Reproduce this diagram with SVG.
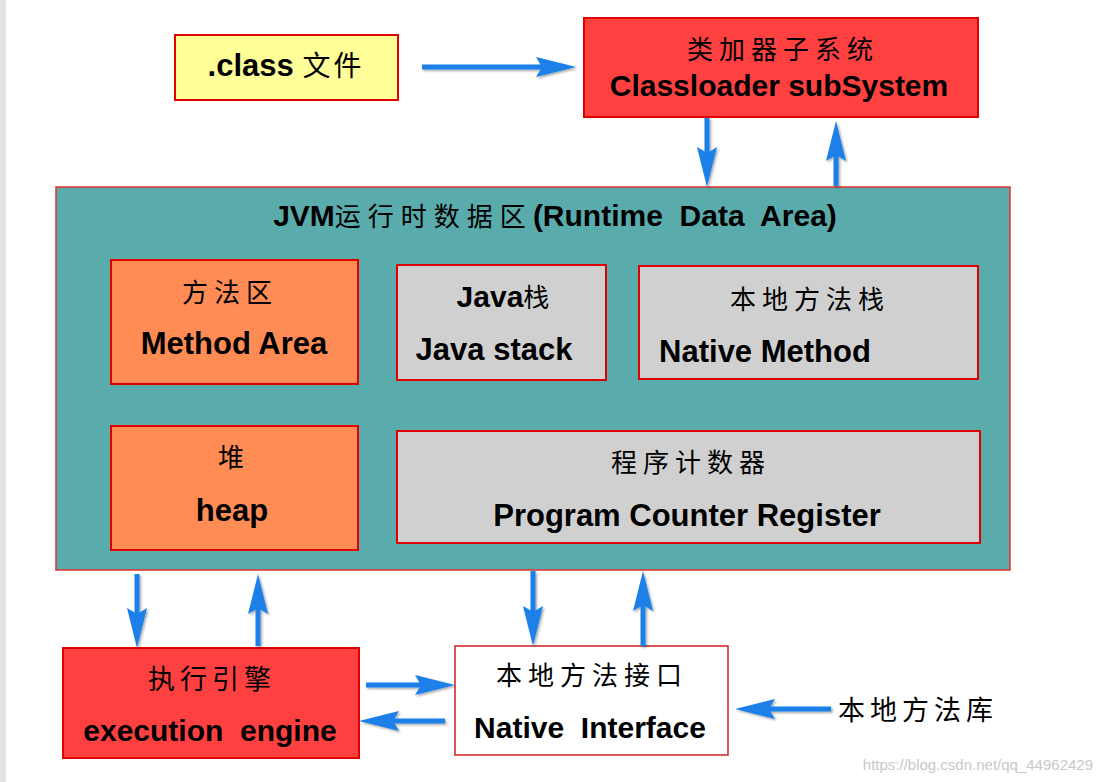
<svg xmlns="http://www.w3.org/2000/svg" width="1102" height="782" viewBox="0 0 1102 782">
<defs>
<style>
.t{font-family:"Liberation Sans","Noto Sans CJK SC",sans-serif;fill:#000;text-anchor:middle}
.b{font-weight:bold}
.cn{font-family:"Noto Sans CJK SC","Liberation Sans",sans-serif;font-weight:normal}
.box{stroke:#e00000;stroke-width:2}
.red{fill:#ff4040}
.or{fill:#ff8c55}
.gr{fill:#d0d0d0}
.arr{stroke:#1a80e8;stroke-width:5;fill:none;marker-end:url(#ah);filter:url(#sh)}
</style>
<marker id="ah" viewBox="0 0 10 10" refX="7" refY="5" markerWidth="8" markerHeight="4" orient="auto" markerUnits="strokeWidth" preserveAspectRatio="none">
<path d="M0,0 L10,5 L0,10 L1.5,5 Z" fill="#1a80e8"/>
</marker>
<filter id="sh" filterUnits="userSpaceOnUse" x="0" y="0" width="1102" height="782">
<feDropShadow dx="1.5" dy="1.5" stdDeviation="1.2" flood-color="#000" flood-opacity="0.35"/>
</filter>
</defs>
<rect x="0" y="0" width="1102" height="782" fill="#fff"/>
<rect x="0" y="0" width="6" height="782" fill="#e2e4e8"/>

<g id="class-file">
<rect class="box" x="175" y="35" width="223" height="65" fill="#ffff99"/>
<text class="t b" x="286" y="76" font-size="31">.class <tspan class="cn" font-size="28" letter-spacing="3">文件</tspan></text>
</g>

<g id="classloader">
<rect class="box red" x="584" y="18" width="394" height="99"/>
<text class="t cn" x="783" y="59" font-size="26" letter-spacing="6">类加器子系统</text>
<text class="t b" x="779" y="96" font-size="30">Classloader subSystem</text>
</g>

<g id="runtime-data-area">
<rect x="56" y="187" width="954" height="383" fill="#5aabab" stroke="#e03030" stroke-width="1.5"/>
<text class="t b" x="555" y="226" font-size="30" xml:space="preserve">JVM<tspan class="cn" font-size="26" letter-spacing="7">运行时数据区</tspan>(Runtime  Data  Area)</text>
</g>

<g id="method-area">
<rect class="box or" x="111" y="260" width="247" height="124"/>
<text class="t cn" x="230" y="302" font-size="26" letter-spacing="6">方法区</text>
<text class="t b" x="234" y="354" font-size="31">Method Area</text>
</g>

<g id="java-stack">
<rect class="box gr" x="397" y="265" width="209" height="115"/>
<text class="t b" x="503" y="307" font-size="30">Java<tspan class="cn" font-size="26">栈</tspan></text>
<text class="t b" x="494" y="360" font-size="31">Java stack</text>
</g>

<g id="native-method-stack">
<rect class="box gr" x="639" y="266" width="339" height="113"/>
<text class="t cn" x="810" y="309" font-size="26" letter-spacing="6">本地方法栈</text>
<text class="t b" x="765" y="362" font-size="31">Native Method</text>
</g>

<g id="heap">
<rect class="box or" x="111" y="426" width="247" height="124"/>
<text class="t cn" x="231" y="467" font-size="26">堆</text>
<text class="t b" x="232" y="521" font-size="31">heap</text>
</g>

<g id="pc-register">
<rect class="box gr" x="397" y="431" width="583" height="112"/>
<text class="t cn" x="691" y="472" font-size="26" letter-spacing="6">程序计数器</text>
<text class="t b" x="687" y="526" font-size="31">Program Counter Register</text>
</g>

<g id="execution-engine">
<rect class="box red" x="63" y="648" width="296" height="110"/>
<text class="t cn" x="212" y="689" font-size="27" letter-spacing="5">执行引擎</text>
<text class="t b" x="210" y="741" font-size="30" xml:space="preserve">execution  engine</text>
</g>

<g id="native-interface">
<rect x="455" y="646" width="273" height="109" fill="#fff" stroke="#d02020" stroke-width="1.5"/>
<text class="t cn" x="592" y="685" font-size="26" letter-spacing="6">本地方法接口</text>
<text class="t b" x="590" y="738" font-size="30" xml:space="preserve">Native  Interface</text>
</g>

<g id="native-library">
<text class="t cn" x="918" y="720" font-size="27" letter-spacing="5">本地方法库</text>
</g>

<g id="watermark">
<text x="1093" y="770" font-family="Liberation Sans, sans-serif" font-size="15" fill="#c8c8c8" text-anchor="end">https://blog.csdn.net/qq_44962429</text>
</g>

<g id="connectors">
<line class="arr" x1="422" y1="67" x2="564" y2="67"/>
<line class="arr" x1="707" y1="118" x2="707" y2="175"/>
<line class="arr" x1="836" y1="186" x2="836" y2="133"/>
<line class="arr" x1="137" y1="574" x2="137" y2="636"/>
<line class="arr" x1="258" y1="646" x2="258" y2="586"/>
<line class="arr" x1="533" y1="571" x2="533" y2="634"/>
<line class="arr" x1="643" y1="646" x2="643" y2="583"/>
<line class="arr" x1="366" y1="685" x2="443" y2="685"/>
<line class="arr" x1="445" y1="721" x2="371" y2="721"/>
<line class="arr" x1="831" y1="709" x2="747" y2="709"/>
</g>
</svg>
